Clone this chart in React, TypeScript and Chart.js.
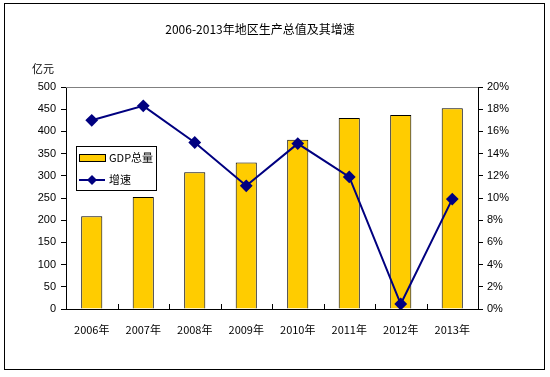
import React, { useEffect, useRef } from "react";
import { Chart, registerables } from "chart.js";

Chart.register(...registerables);

const categories = ["2006年", "2007年", "2008年", "2009年", "2010年", "2011年", "2012年", "2013年"];
const gdpValues = [209, 252, 308, 330, 381, 430, 437, 452];
const growthValues = [17.0, 18.3, 15.0, 11.1, 14.9, 11.9, 0.45, 9.9];
const titleText = "2006-2013年地区生产总值及其增速";
const unitText = "亿元";
const gdpLabel = "GDP总量";
const growthLabel = "增速";

const BAR_COLOR = "#FFCC00";
const LINE_COLOR = "#000080";
const NUM_FONT = "'Liberation Sans', Arial, sans-serif";
const CJK_FONT = "'Noto Sans CJK SC', sans-serif";

const decorPlugin = {
  id: "decor",
  afterDraw(chart: any) {
    const ctx = chart.ctx;
    const area = chart.chartArea;
    const xScale = chart.scales.x;
    ctx.save();
    // top border of plot area (gray)
    ctx.strokeStyle = "#808080";
    ctx.lineWidth = 1;
    ctx.beginPath();
    ctx.moveTo(area.left, Math.round(area.top) + 0.5);
    ctx.lineTo(area.right, Math.round(area.top) + 0.5);
    ctx.stroke();

    // inward x tick marks between categories
    ctx.strokeStyle = "#000";
    const n = categories.length;
    const step = (area.right - area.left) / n;
    for (let i = 1; i < n; i++) {
      const x = Math.round(xScale.getPixelForValue(i) - step / 2) + 0.5;
      ctx.beginPath();
      ctx.moveTo(x, area.bottom);
      ctx.lineTo(x, area.bottom - 5);
      ctx.stroke();
    }

    // title
    ctx.fillStyle = "#000";
    ctx.font = `12px ${CJK_FONT}`;
    ctx.textAlign = "center";
    ctx.textBaseline = "middle";
    ctx.fillText(titleText, 260, 29);

    // unit
    ctx.font = `11px ${CJK_FONT}`;
    ctx.textAlign = "left";
    ctx.fillText(unitText, 32, 69);

    // legend box
    ctx.fillStyle = "#fff";
    ctx.fillRect(76, 146, 80, 44);
    ctx.strokeStyle = "#000";
    ctx.lineWidth = 1;
    ctx.strokeRect(76.5, 146.5, 80, 44);
    // bar swatch
    ctx.fillStyle = BAR_COLOR;
    ctx.fillRect(79, 154, 26, 7);
    ctx.strokeRect(79.5, 154.5, 26, 7);
    ctx.fillStyle = "#000";
    ctx.font = `11px ${CJK_FONT}`;
    ctx.textBaseline = "middle";
    ctx.fillText(gdpLabel, 109, 158);
    // line swatch
    ctx.strokeStyle = LINE_COLOR;
    ctx.lineWidth = 2;
    ctx.beginPath();
    ctx.moveTo(79, 180);
    ctx.lineTo(105, 180);
    ctx.stroke();
    ctx.fillStyle = LINE_COLOR;
    ctx.beginPath();
    ctx.moveTo(92, 175);
    ctx.lineTo(97, 180);
    ctx.lineTo(92, 185);
    ctx.lineTo(87, 180);
    ctx.closePath();
    ctx.fill();
    ctx.fillStyle = "#000";
    ctx.fillText(growthLabel, 109, 180);

    // outer border
    ctx.strokeStyle = "#000";
    ctx.lineWidth = 1;
    ctx.strokeRect(4.5, 3.5, 540, 366);
    ctx.restore();
  },
};

export default function App() {
  const ref = useRef<HTMLCanvasElement | null>(null);

  useEffect(() => {
    if (!ref.current) return;
    const chart = new Chart(ref.current, {
      type: "bar",
      data: {
        labels: categories,
        datasets: [
          {
            type: "line",
            label: growthLabel,
            data: growthValues,
            yAxisID: "y1",
            borderColor: LINE_COLOR,
            backgroundColor: LINE_COLOR,
            borderWidth: 2,
            pointStyle: "rectRot",
            pointRadius: 5,
            pointBackgroundColor: LINE_COLOR,
            pointBorderColor: LINE_COLOR,
            tension: 0,
            order: 0,
          } as any,
          {
            type: "bar",
            label: gdpLabel,
            data: gdpValues,
            yAxisID: "y",
            backgroundColor: BAR_COLOR,
            borderColor: "#000",
            borderWidth: 1,
            barPercentage: 1,
            categoryPercentage: 0.41,
            order: 1,
          } as any,
        ],
      },
      options: {
        responsive: false,
        animation: false,
        layout: { padding: { top: 87, left: 0, right: 0, bottom: 0 } },
        plugins: {
          legend: { display: false },
          title: { display: false },
          tooltip: { enabled: false },
        },
        scales: {
          x: {
            grid: { display: false, drawTicks: false },
            border: { display: true, color: "#000", width: 1 },
            ticks: {
              color: "#000",
              font: { family: CJK_FONT, size: 11 },
              padding: 14,
              maxRotation: 0,
              autoSkip: false,
            },
            afterFit(scale: any) {
              scale.height = 68;
            },
          },
          y: {
            position: "left",
            min: 0,
            max: 500,
            ticks: {
              stepSize: 50,
              color: "#000",
              font: { family: NUM_FONT, size: 11 },
              padding: 5,
            },
            grid: { drawOnChartArea: false, tickLength: 5, color: "#000" },
            border: { display: true, color: "#000", width: 1 },
            afterFit(scale: any) {
              scale.width = 66;
            },
          },
          y1: {
            position: "right",
            min: 0,
            max: 20,
            ticks: {
              stepSize: 2,
              color: "#000",
              font: { family: NUM_FONT, size: 11 },
              padding: 4,
              callback: (v: any) => `${v}%`,
            },
            grid: { drawOnChartArea: false, tickLength: 5, color: "#000" },
            border: { display: true, color: "#000", width: 1 },
            afterFit(scale: any) {
              scale.width = 72;
            },
          },
        },
      },
      plugins: [decorPlugin],
    });
    return () => chart.destroy();
  }, []);

  return (
    <div style={{ position: "fixed", left: 0, top: 0, width: 550, height: 377, background: "#fff" }}>
      <canvas ref={ref} width={550} height={377} style={{ display: "block" }} />
    </div>
  );
}
